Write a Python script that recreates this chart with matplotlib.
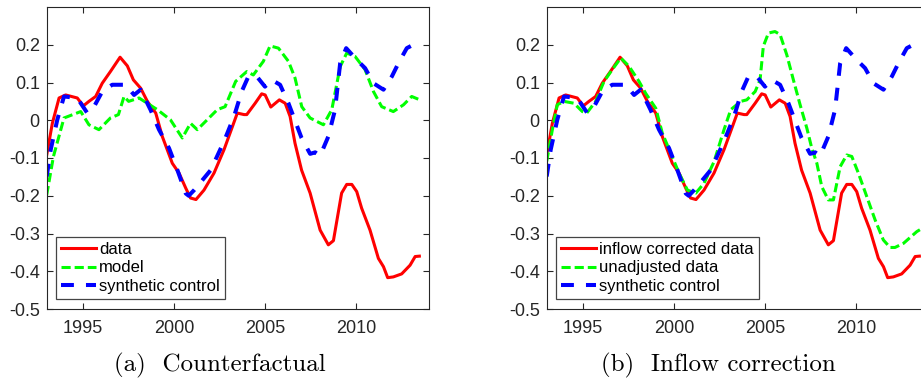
import numpy as np
import matplotlib
matplotlib.use("Agg")
import matplotlib.pyplot as plt

plt.rcParams["font.family"] = ["Liberation Sans", "DejaVu Sans"]

# data
red_years = [1993.0, 1993.31, 1993.68, 1994.04, 1994.68, 1995.01, 1995.32, 1995.69, 1996.05, 1996.5,
             1997.03, 1997.43, 1997.76, 1998.16, 1998.53, 1998.99, 1999.35, 1999.9, 2000.27, 2000.64,
             2000.9, 2001.2, 2001.64, 2002.19, 2002.74, 2003.2, 2003.47, 2003.84, 2003.99, 2004.45,
             2004.81, 2005.0, 2005.31, 2005.78, 2006.1, 2006.37, 2006.64, 2007.0, 2007.47, 2008.02,
             2008.47, 2008.75, 2009.2, 2009.48, 2009.76, 2010.03, 2010.3, 2010.76, 2011.22, 2011.5,
             2011.73, 2012.04, 2012.5, 2012.96, 2013.24, 2013.47]
red_vals = [-0.092, -0.008, 0.059, 0.067, 0.059, 0.038, 0.050, 0.063, 0.098, 0.129,
            0.167, 0.144, 0.107, 0.085, 0.050, 0.019, -0.043, -0.114, -0.140, -0.180,
            -0.206, -0.210, -0.185, -0.140, -0.078, -0.017, 0.019, 0.015, 0.015, 0.045,
            0.070, 0.067, 0.035, 0.054, 0.045, 0.010, -0.061, -0.132, -0.193, -0.291,
            -0.330, -0.319, -0.193, -0.170, -0.170, -0.189, -0.233, -0.291, -0.366, -0.388,
            -0.417, -0.415, -0.407, -0.384, -0.361, -0.360]

blue_years = [1993.0, 1993.22, 1993.58, 1993.95, 1994.68, 1995.23, 1995.6, 1996.05, 1996.6, 1997.34,
              1997.8, 1998.16, 1998.7, 1999.17, 1999.72, 2000.18, 2000.64, 2000.8, 2001.1, 2002.01,
              2002.74, 2003.29, 2003.71, 2004.08, 2004.54, 2004.99, 2005.36, 2005.82, 2006.28, 2007.0,
              2007.47, 2007.75, 2008.02, 2008.47, 2008.84, 2009.12, 2009.45, 2010.03, 2010.49, 2010.95,
              2011.5, 2011.96, 2012.32, 2012.78, 2013.14, 2013.25]
blue_vals = [-0.149, -0.078, 0.001, 0.063, 0.059, 0.019, 0.036, 0.076, 0.094, 0.094,
             0.067, 0.081, 0.028, -0.025, -0.074, -0.132, -0.194, -0.200, -0.185, -0.132,
             -0.056, 0.010, 0.076, 0.116, 0.116, 0.089, 0.107, 0.094, 0.045, -0.047,
             -0.089, -0.085, -0.094, -0.043, 0.028, 0.151, 0.191, 0.160, 0.138, 0.098,
             0.081, 0.116, 0.151, 0.191, 0.200, 0.195]

model_years = [1993.0, 1993.37, 1993.95, 1994.87, 1995.32, 1995.87, 1996.5, 1996.94, 1997.25, 1997.5,
               1998.07, 1999.08, 1999.8, 2000.45, 2000.9, 2001.27, 2002.37, 2002.8, 2003.38, 2003.99,
               2004.35, 2004.9, 2005.27, 2005.73, 2006.28, 2006.64, 2007.01, 2007.47, 2008.2, 2008.66,
               2009.12, 2009.48, 2009.94, 2010.49, 2010.95, 2011.4, 2012.04, 2012.6, 2013.05, 2013.5]
model_vals = [-0.198, -0.096, 0.006, 0.023, -0.012, -0.025, 0.006, 0.015, 0.063, 0.050,
              0.059, 0.028, 0.001, -0.047, -0.008, -0.025, 0.028, 0.036, 0.103, 0.129,
              0.120, 0.156, 0.197, 0.191, 0.156, 0.112, 0.036, 0.006, -0.012, 0.028,
              0.142, 0.178, 0.169, 0.134, 0.076, 0.036, 0.023, 0.041, 0.063, 0.054]

unadj_years = [1993.0, 1993.31, 1993.58, 1993.95, 1994.5, 1994.96, 1995.2, 1995.69, 1996.15, 1996.6,
               1997.07, 1997.52, 1998.07, 1998.44, 1998.99, 1999.35, 1999.81, 2000.27, 2000.73, 2001.19,
               2001.64, 2002.19, 2002.74, 2003.11, 2003.66, 2003.99, 2004.45, 2004.72, 2004.9, 2005.18,
               2005.54, 2005.82, 2006.19, 2006.55, 2006.92, 2007.29, 2007.56, 2007.84, 2008.11, 2008.47,
               2008.75, 2009.12, 2009.48, 2009.76, 2010.12, 2010.58, 2011.04, 2011.49, 2011.86, 2012.13,
               2012.6, 2013.33, 2013.5]
unadj_vals = [-0.109, -0.025, 0.041, 0.050, 0.045, 0.023, 0.019, 0.050, 0.103, 0.134,
              0.165, 0.143, 0.103, 0.071, 0.032, -0.034, -0.087, -0.140, -0.185, -0.193,
              -0.167, -0.110, -0.025, 0.028, 0.050, 0.054, 0.076, 0.107, 0.196, 0.231,
              0.235, 0.227, 0.173, 0.107, 0.041, -0.021, -0.074, -0.114, -0.176, -0.211,
              -0.211, -0.123, -0.092, -0.096, -0.140, -0.202, -0.264, -0.317, -0.337, -0.337,
              -0.326, -0.295, -0.290]

yticks = [-0.5, -0.4, -0.3, -0.2, -0.1, 0, 0.1, 0.2]
ytick_labels = ["-0.5", "-0.4", "-0.3", "-0.2", "-0.1", "0", "0.1", "0.2"]
xticks = [1995, 2000, 2005, 2010]

fig = plt.figure(figsize=(9.21, 3.83), dpi=100)
W, H = 921.0, 383.0
ax1 = fig.add_axes([46.7 / W, 1 - 309 / H, 382.3 / W, 302 / H])
ax2 = fig.add_axes([546.7 / W, 1 - 309 / H, 382.3 / W, 302 / H])

ink = "#262626"


def style(ax):
    ax.set_xlim(1993, 2014)
    ax.set_ylim(-0.5, 0.3)
    ax.set_xticks(xticks)
    ax.set_xticklabels([str(x) for x in xticks])
    ax.set_yticks(yticks)
    ax.set_yticklabels(ytick_labels)
    ax.tick_params(direction="in", length=4, width=0.8, colors=ink, labelsize=13,
                   top=True, right=True)
    ax.tick_params(axis="x", pad=8)
    ax.tick_params(axis="y", pad=5)
    for s in ax.spines.values():
        s.set_color(ink)
        s.set_linewidth(0.8)


def add_legend(ax, x0):
    leg = ax.legend(loc="lower left", bbox_to_anchor=(x0, 0.033), borderaxespad=0,
                    fontsize=12, handlelength=2.1, handletextpad=0.2, labelspacing=0.22,
                    borderpad=0.3, fancybox=False, framealpha=1)
    leg.get_frame().set_edgecolor("#444444")
    leg.get_frame().set_linewidth(0.9)
    for t in leg.get_texts():
        t.set_color("black")


# (a) counterfactual
ax1.plot(red_years, red_vals, color="red", lw=2.2, label="data")
ax1.plot(model_years, model_vals, color="#00ff00", lw=2.2, dashes=(3, 1.3), label="model")
ax1.plot(blue_years, blue_vals, color="blue", lw=2.9, dashes=(3.2, 3.0), label="synthetic control")
style(ax1)
add_legend(ax1, 0.0235)

# (b) inflow correction
ax2.plot(red_years, red_vals, color="red", lw=2.2, label="inflow corrected data")
ax2.plot(unadj_years, unadj_vals, color="#00ff00", lw=2.2, dashes=(3, 1.3), label="unadjusted data")
ax2.plot(blue_years, blue_vals, color="blue", lw=2.9, dashes=(3.2, 3.0), label="synthetic control")
style(ax2)
add_legend(ax2, 0.024)

fig.text(220 / W, 1 - 365 / H, "(a)  Counterfactual", fontfamily="cmr10", fontsize=18,
         ha="center", va="center")
fig.text(718 / W, 1 - 365 / H, "(b)  Inflow correction", fontfamily="cmr10", fontsize=18,
         ha="center", va="center")

fig.savefig("out.png", dpi=100)
